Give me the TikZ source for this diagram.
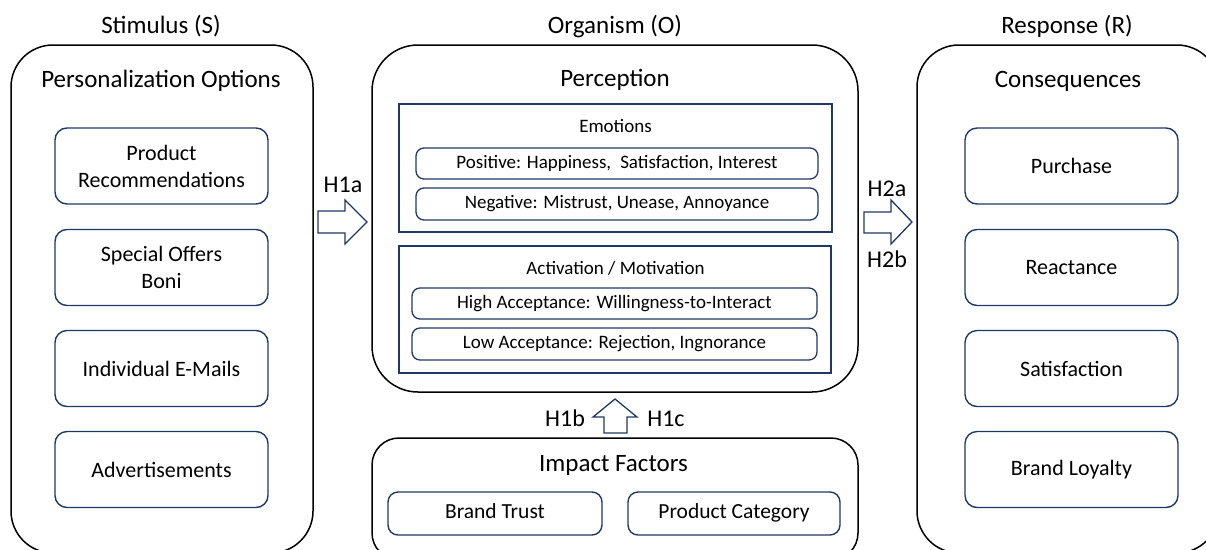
\documentclass[tikz,border=0pt]{standalone}
\usepackage{fontspec}
\setmainfont{Carlito}
\definecolor{navy}{HTML}{203864}
\begin{document}
\begin{tikzpicture}[x=1pt,y=-1pt,
  outerbox/.style={draw=black, line width=1.5pt, inner sep=0pt},
  itembox/.style={draw=navy, line width=1.4pt, rounded corners=12pt,
    minimum width=213pt, minimum height=76pt, inner sep=0pt, align=center,
    font=\fontsize{22}{27}\selectfont},
  groupbox/.style={draw=navy, line width=1.4pt, inner sep=0pt},
  pill/.style={draw=navy, line width=1.3pt, rounded corners=8pt, inner sep=0pt,
    font=\fontsize{19}{23}\selectfont},
  factor/.style={draw=navy, line width=1.4pt, rounded corners=10pt, inner sep=0pt,
    minimum height=43pt, text height=14pt, text depth=4.5pt,
    font=\fontsize{21.5}{26}\selectfont},
  heading/.style={anchor=base, inner sep=0pt, font=\fontsize{25}{30}\selectfont},
  subhead/.style={anchor=base, inner sep=0pt, font=\fontsize{19}{23}\selectfont},
  hyp/.style={anchor=base, inner sep=0pt, font=\fontsize{24}{29}\selectfont},
  blockarrow/.style={draw=navy, line width=1.3pt, fill=white, line join=miter}
]
\useasboundingbox (0,0) rectangle (1206,549);
\clip (0,0) rectangle (1206,549);

% column headings
\node[heading] (hS) at (161,33) {Stimulus (S)};
\node[heading] (hO) at (615,33) {Organism (O)};
\node[heading] (hR) at (1067,33) {Response (R)};

% three main panels
\node[outerbox, rounded corners=42pt, minimum width=302pt, minimum height=508pt] (stim) at (162,299) {};
\node[outerbox, rounded corners=46pt, minimum width=486pt, minimum height=347pt] (org) at (615,218.5) {};
\node[outerbox, rounded corners=42pt, minimum width=302pt, minimum height=508pt] (resp) at (1068,299) {};
\node[outerbox, rounded corners=27pt, minimum width=486pt, minimum height=122pt] (impact) at (615,499) {};

% panel titles
\node[heading] (tS) at (161,87) {Personalization Options};
\node[heading] (tO) at (615,86) {Perception};
\node[heading] (tR) at (1068,87) {Consequences};
\node[heading] (tI) at (613.5,471) {Impact Factors};

% stimulus items
\node[itembox] (s1) at (161.5,166) {Product\\Recommendations};
\node[itembox] (s2) at (161.5,267.5) {Special Offers\\Boni};
\node[itembox] (s3) at (161.5,368.5) {Individual E-Mails};
\node[itembox] (s4) at (161.5,469.5) {Advertisements};

% response items
\node[itembox] (r1) at (1071.5,166) {Purchase};
\node[itembox] (r2) at (1071.5,267.5) {Reactance};
\node[itembox] (r3) at (1071.5,368.5) {Satisfaction};
\node[itembox] (r4) at (1071.5,469.5) {Brand Loyalty};

% perception groups
\node[groupbox, minimum width=433pt, minimum height=128pt] (emo) at (615.5,168) {};
\node[subhead] (emoT) at (615.5,132) {Emotions};
\node[pill, minimum width=402pt, minimum height=31pt] (pos) at (617,163.5)
  {Positive: Happiness,\hspace{0.25em} Satisfaction, Interest};
\node[pill, minimum width=402pt, minimum height=32pt] (neg) at (617,204)
  {Negative: Mistrust, Unease, Annoyance};

\node[groupbox, minimum width=432pt, minimum height=127pt] (act) at (615,309.5) {};
\node[subhead] (actT) at (615.5,274) {Activation / Motivation};
\node[pill, minimum width=405pt, minimum height=31pt] (high) at (614.5,303.5)
  {High Acceptance: Willingness-to-Interact};
\node[pill, minimum width=405pt, minimum height=32pt] (low) at (614.5,344)
  {Low Acceptance: Rejection, Ingnorance};

% impact factors
\node[factor, minimum width=214pt] (trust) at (495,513.5) {Brand Trust};
\node[factor, minimum width=212pt] (cat) at (734,513.5) {Product Category};

% block arrows
\draw[blockarrow] (318,211) -- (345,211) -- (345,200) -- (367,222) -- (345,244) -- (345,233) -- (318,233) -- cycle;
\draw[blockarrow] (864,212) -- (891,212) -- (891,200) -- (912,222) -- (891,244) -- (891,233) -- (864,233) -- cycle;
\draw[blockarrow] (604,433) -- (604,417) -- (593,417) -- (615,399) -- (637,417) -- (627,417) -- (627,433) -- cycle;

% hypothesis labels
\node[hyp] (h1a) at (343,192) {H1a};
\node[hyp] (h2a) at (887,196) {H2a};
\node[hyp] (h2b) at (887,267) {H2b};
\node[hyp] (h1b) at (565,426) {H1b};
\node[hyp] (h1c) at (666,426) {H1c};
\end{tikzpicture}
\end{document}
